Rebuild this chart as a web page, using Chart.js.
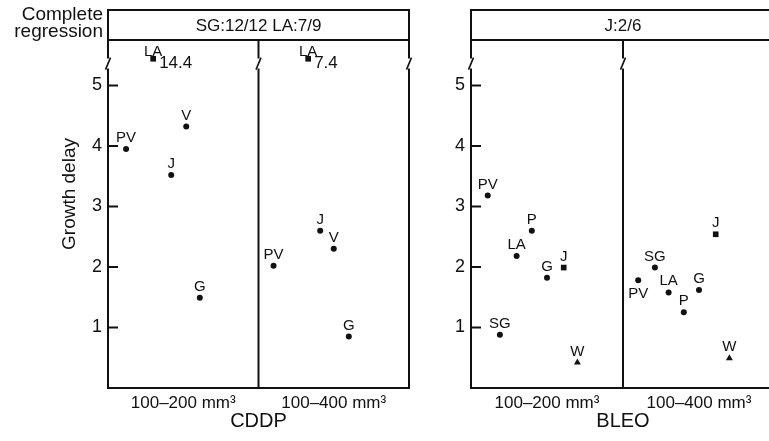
<!DOCTYPE html>
<html>
<head>
<meta charset="utf-8">
<script src="https://cdn.jsdelivr.net/npm/chart.js@4.4.0/dist/chart.umd.min.js"></script>
<style>
  html, body { margin: 0; padding: 0; background: #fff; overflow: hidden; width: 769px; height: 441px; }
  .panel { position: absolute; top: 0; height: 441px; }
  #cddpBox { left: 0; width: 420px; }
  #bleoBox { left: 400px; width: 400px; }
</style>
</head>
<body>
<div class="panel" id="cddpBox"><canvas id="cddpChart" width="420" height="441"></canvas></div>
<div class="panel" id="bleoBox"><canvas id="bleoChart" width="400" height="441"></canvas></div>
<script>
// tumour size groups (x categories) and y ticks
const sizeGroups = ["100–200 mm³", "100–400 mm³"];
const yTicks = [1, 2, 3, 4, 5];

// CDDP: tumour line, size group, spread inside the group, growth delay
const cddpTumors = ["PV", "J", "V", "G", "LA", "PV", "J", "V", "G", "LA"];
const cddpGroup  = [0, 0, 0, 0, 0, 1, 1, 1, 1, 1];
const cddpSpread = [0.12, 0.42, 0.52, 0.61, 0.30, 0.10, 0.41, 0.50, 0.60, 0.33];
const cddpDelay  = [3.95, 3.52, 4.32, 1.49, 14.4, 2.02, 2.60, 2.30, 0.85, 7.4];
const cddpRegression = "SG:12/12 LA:7/9";

// BLEO
const bleoTumors = ["PV", "SG", "LA", "P", "G", "J", "W", "PV", "SG", "LA", "P", "G", "J", "W"];
const bleoGroup  = [0, 0, 0, 0, 0, 0, 0, 1, 1, 1, 1, 1, 1, 1];
const bleoSpread = [0.11, 0.19, 0.30, 0.40, 0.50, 0.61, 0.70, 0.10, 0.21, 0.30, 0.40, 0.50, 0.61, 0.70];
const bleoDelay  = [3.18, 0.88, 2.18, 2.60, 1.82, 1.99, 0.42, 1.78, 1.99, 1.58, 1.25, 1.62, 2.54, 0.49];
const bleoRegression = "J:2/6";

// axis is broken above 5: bigger delays sit just above the break
const Y_MAX = 5.75;
const BREAK_AT = 5.36;
const ABOVE_BREAK = 5.44;

const FONT = "'Liberation Sans', Arial, Helvetica, sans-serif";
const INK = "#111";

Chart.defaults.font.family = FONT;
Chart.defaults.color = INK;

function buildPoints(tumors, group, spread, delay) {
  return tumors.map((name, i) => ({
    x: group[i] + spread[i],
    y: delay[i] > BREAK_AT ? ABOVE_BREAK : delay[i],
    name: name,
    value: delay[i]
  }));
}

// frame, header box, broken axes, inward ticks
const framePlugin = {
  id: "frame",
  afterDraw(chart, args, opts) {
    const { ctx, chartArea: a } = chart;
    const x = chart.scales.x, y = chart.scales.y;
    const mid = x.getPixelForValue(1);
    const headTop = 10;
    const by = y.getPixelForValue(BREAK_AT);

    ctx.save();
    ctx.strokeStyle = INK;
    ctx.lineWidth = 2;
    ctx.beginPath();
    ctx.moveTo(a.left - 1, headTop); ctx.lineTo(a.right + 1, headTop);
    ctx.moveTo(a.left, a.top); ctx.lineTo(a.right, a.top);
    ctx.moveTo(a.left - 1, a.bottom); ctx.lineTo(a.right + 1, a.bottom);
    [a.left, mid, a.right].forEach(px => {
      ctx.moveTo(px, px === mid ? a.top : headTop);
      ctx.lineTo(px, by - 5);
      ctx.moveTo(px, by + 5);
      ctx.lineTo(px, a.bottom);
    });
    yTicks.forEach(v => {
      const py = y.getPixelForValue(v);
      ctx.moveTo(a.left, py);
      ctx.lineTo(a.left + 10, py);
    });
    ctx.stroke();

    ctx.lineWidth = 1.6;
    ctx.beginPath();
    [a.left, mid, a.right].forEach(px => {
      ctx.moveTo(px - 2.5, by + 6);
      ctx.lineTo(px + 2.5, by - 6);
    });
    ctx.stroke();

    ctx.fillStyle = INK;
    ctx.textAlign = "center";
    ctx.textBaseline = "middle";
    ctx.font = "17px " + FONT;
    ctx.fillText(opts.header, (a.left + a.right) / 2, (headTop + a.top) / 2 + 1);

    if (opts.side) {
      ctx.textAlign = "right";
      ctx.font = "19px " + FONT;
      ctx.fillText(opts.side[0], a.left - 5, 15);
      ctx.fillText(opts.side[1], a.left - 5, 32);
    }
    if (opts.yTitle) {
      ctx.translate(70, 194);
      ctx.rotate(-Math.PI / 2);
      ctx.textAlign = "center";
      ctx.font = "19px " + FONT;
      ctx.fillText(opts.yTitle, 0, 0);
    }
    ctx.restore();
  }
};

// tumour names next to each point
const labelPlugin = {
  id: "tumorLabels",
  afterDatasetsDraw(chart, args, opts) {
    const { ctx } = chart;
    const meta = chart.getDatasetMeta(0);
    const data = chart.data.datasets[0].data;
    ctx.save();
    ctx.fillStyle = INK;
    meta.data.forEach((el, i) => {
      const d = data[i];
      const px = el.x, py = el.y;
      ctx.textAlign = "center";
      ctx.textBaseline = "alphabetic";
      ctx.font = "15px " + FONT;
      if (d.value > BREAK_AT) {
        ctx.fillText(d.name, px, py - 2.5);
        ctx.textAlign = "left";
        ctx.textBaseline = "middle";
        ctx.font = "17px " + FONT;
        ctx.fillText(String(d.value), px + 6, py + 5);
      } else if ((opts.below || []).includes(i)) {
        ctx.fillText(d.name, px, py + 18);
      } else {
        ctx.fillText(d.name, px, py - 7);
      }
    });
    ctx.restore();
  }
};

function buildScales(drug, yWidth) {
  return {
    x: {
      type: "linear",
      min: 0,
      max: 2,
      afterBuildTicks: s => { s.ticks = [{ value: 0.5 }, { value: 1.5 }]; },
      afterFit: s => { s.height = 53; },
      grid: { display: false, drawTicks: false },
      border: { display: false },
      ticks: {
        callback: (v, i) => sizeGroups[i],
        font: { size: 17 },
        padding: 5,
        maxRotation: 0,
        autoSkip: false
      },
      title: { display: true, text: drug, font: { size: 20 }, padding: { top: 0, bottom: 8 } }
    },
    y: {
      min: 0,
      max: Y_MAX,
      afterBuildTicks: s => { s.ticks = yTicks.map(v => ({ value: v })); },
      afterFit: s => { s.width = yWidth; },
      grid: { display: false, drawTicks: false },
      border: { display: false },
      ticks: { font: { size: 18 }, padding: 6 }
    }
  };
}

function markerFor(squares, triangles) {
  return ctx => {
    const d = ctx.raw;
    if (!d) return "circle";
    if (squares.includes(d.name)) return "rect";
    if (triangles.includes(d.name)) return "triangle";
    return "circle";
  };
}

function makePanel(canvasId, drug, points, opts) {
  const marker = markerFor(opts.squares, opts.triangles);
  return new Chart(document.getElementById(canvasId), {
    type: "scatter",
    data: {
      datasets: [{
        data: points,
        pointStyle: marker,
        pointRadius: ctx => (marker(ctx) === "circle" ? 3 : 4),
        backgroundColor: INK,
        borderColor: INK,
        borderWidth: 0
      }]
    },
    options: {
      responsive: false,
      animation: false,
      devicePixelRatio: 1,
      layout: { padding: { top: 40, right: opts.padRight, bottom: 0, left: 0 } },
      scales: buildScales(drug, opts.yWidth),
      plugins: {
        legend: { display: false },
        tooltip: { enabled: false },
        frame: { header: opts.header, side: opts.side, yTitle: opts.yTitle },
        tumorLabels: { below: opts.below }
      }
    },
    plugins: [framePlugin, labelPlugin]
  });
}

makePanel("cddpChart", "CDDP", buildPoints(cddpTumors, cddpGroup, cddpSpread, cddpDelay), {
  header: cddpRegression,
  side: ["Complete", "regression"],
  yTitle: "Growth delay",
  yWidth: 108,
  padRight: 11,
  squares: ["LA"],
  triangles: [],
  below: []
});

makePanel("bleoChart", "BLEO", buildPoints(bleoTumors, bleoGroup, bleoSpread, bleoDelay), {
  header: bleoRegression,
  yWidth: 71,
  padRight: 25,
  squares: ["J"],
  triangles: ["W"],
  below: [7]
});
</script>
</body>
</html>
